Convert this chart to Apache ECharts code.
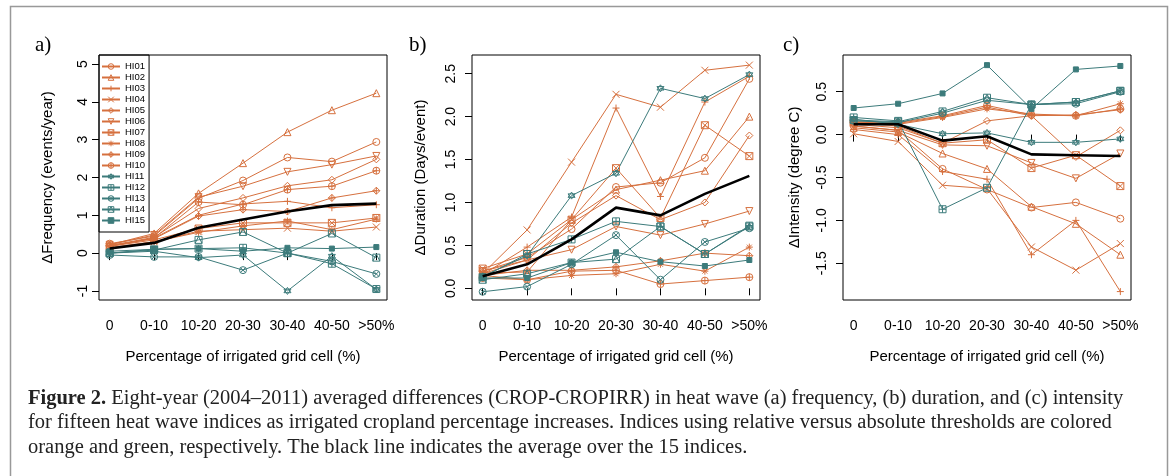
<!DOCTYPE html>
<html>
<head>
<meta charset="utf-8">
<script src="https://cdn.jsdelivr.net/npm/echarts@6/dist/echarts.min.js"></script>
<style>
  html, body { margin: 0; padding: 0; background: #fff; }
  #chart { width: 1173px; height: 476px; }
</style>
</head>
<body>
<div id="chart"></div>
<script>
const categories = ['0', '0-10', '10-20', '20-30', '30-40', '40-50', '>50%'];
const names = ['HI01', 'HI02', 'HI03', 'HI04', 'HI05', 'HI06', 'HI07', 'HI08',
  'HI09', 'HI10', 'HI11', 'HI12', 'HI13', 'HI14', 'HI15'];

// a) frequency (events/year), one row per index
const freqValues = [
  [0.25, 0.45, 1.45, 1.92, 2.53, 2.42, 2.94],
  [0.22, 0.52, 1.58, 2.38, 3.20, 3.78, 4.23],
  [0.18, 0.40, 1.00, 1.30, 1.37, 1.20, 1.28],
  [0.15, 0.30, 0.58, 0.62, 0.66, 0.58, 0.69],
  [0.20, 0.42, 1.18, 1.46, 1.78, 1.94, 2.48],
  [0.22, 0.48, 1.48, 1.77, 2.15, 2.34, 2.57],
  [0.18, 0.35, 0.65, 0.80, 0.80, 0.80, 0.93],
  [0.12, 0.30, 0.55, 0.72, 0.85, 0.62, 0.90],
  [0.20, 0.38, 0.98, 1.15, 1.10, 1.46, 1.65],
  [0.18, 0.40, 1.35, 1.28, 1.68, 1.77, 2.18],
  [0.00, 0.05, -0.12, -0.05, -1.00, -0.08, -0.96],
  [0.00, 0.10, 0.12, 0.14, 0.00, -0.28, -0.95],
  [-0.05, -0.10, -0.10, -0.45, 0.00, -0.22, -0.55],
  [0.00, 0.08, 0.35, 0.56, 0.00, 0.52, -0.12],
  [0.05, 0.10, 0.12, 0.05, 0.14, 0.12, 0.16],
];
const freqMean = [0.12, 0.27, 0.67, 0.89, 1.10, 1.27, 1.31];

// b) duration (days/event)
const durValues = [
  [0.20, 0.36, 0.69, 1.18, 1.23, 1.52, 2.44],
  [0.18, 0.19, 0.80, 1.15, 1.26, 1.37, 2.00],
  [0.16, 0.48, 0.83, 2.10, 1.07, 2.17, 2.47],
  [0.17, 0.68, 1.47, 2.26, 2.11, 2.54, 2.60],
  [0.17, 0.33, 0.76, 1.08, 0.80, 1.00, 1.78],
  [0.20, 0.33, 0.45, 0.72, 0.62, 0.75, 0.90],
  [0.23, 0.40, 0.80, 1.40, 0.82, 1.90, 1.54],
  [0.15, 0.10, 0.15, 0.17, 0.28, 0.20, 0.48],
  [0.15, 0.21, 0.21, 0.25, 0.32, 0.41, 0.38],
  [0.12, 0.10, 0.20, 0.21, 0.05, 0.09, 0.13],
  [0.14, 0.38, 1.08, 1.34, 2.33, 2.21, 2.49],
  [0.13, 0.40, 0.57, 0.78, 0.72, 0.40, 0.73],
  [-0.04, 0.02, 0.28, 0.62, 0.10, 0.54, 0.70],
  [0.10, 0.17, 0.30, 0.34, 0.72, 0.40, 0.72],
  [0.12, 0.12, 0.30, 0.42, 0.31, 0.26, 0.33],
];
const durMean = [0.14, 0.28, 0.57, 0.94, 0.85, 1.10, 1.31];

// c) intensity (degree C)
const intValues = [
  [0.10, 0.05, -0.40, -0.64, -0.85, -0.79, -0.98],
  [0.08, 0.03, -0.22, -0.40, -0.84, -1.04, -1.40],
  [0.06, 0.00, -0.43, -0.52, -1.40, -1.00, -1.83],
  [0.01, -0.08, -0.59, -0.63, -1.31, -1.58, -1.27],
  [0.12, 0.08, -0.10, 0.16, 0.22, -0.26, 0.05],
  [0.10, 0.05, -0.12, -0.13, -0.33, -0.51, -0.22],
  [0.14, 0.10, -0.10, -0.06, -0.39, -0.24, -0.60],
  [0.15, 0.12, 0.20, 0.30, 0.24, 0.22, 0.36],
  [0.14, 0.13, 0.21, 0.32, 0.22, 0.23, 0.29],
  [0.15, 0.14, 0.22, 0.34, 0.23, 0.22, 0.30],
  [0.18, 0.12, 0.01, 0.02, -0.09, -0.09, -0.05],
  [0.20, 0.16, -0.87, -0.62, 0.35, 0.38, 0.51],
  [0.16, 0.14, 0.25, 0.40, 0.35, 0.36, 0.50],
  [0.17, 0.15, 0.27, 0.43, 0.35, 0.38, 0.51],
  [0.31, 0.36, 0.48, 0.81, 0.30, 0.76, 0.80],
];
const intMean = [0.12, 0.12, -0.07, -0.02, -0.23, -0.24, -0.25];

const freqTicks = [-1, 0, 1, 2, 3, 4, 5];
const durTicks = [0, 0.5, 1, 1.5, 2, 2.5];
const intTicks = [-1.5, -1, -0.5, 0, 0.5];

const ORANGE = '#D6703E';
const GREEN = '#3C7B7B';
const SANS = 'Liberation Sans, Arial, sans-serif';
const SERIF = 'Liberation Serif, Times New Roman, serif';

// R-like plotting symbols (pch 1..15)
const circle = 'M0,5A5,5,0,1,0,10,5A5,5,0,1,0,0,5Z';
const symbols = [
  'path://' + circle,
  'path://M5,0L10,9L0,9Z',
  'path://M5,0L5,10M0,5L10,5',
  'path://M0,0L10,10M10,0L0,10',
  'path://M5,0L10,5L5,10L0,5Z',
  'path://M0,0L10,0L5,9Z',
  'path://M0,0L10,0L10,10L0,10ZM0,0L10,10M10,0L0,10',
  'path://M5,0L5,10M0,5L10,5M1.5,1.5L8.5,8.5M8.5,1.5L1.5,8.5',
  'path://M5,0L10,5L5,10L0,5ZM5,0L5,10M0,5L10,5',
  'path://' + circle + 'M5,0L5,10M0,5L10,5',
  'path://M5,0L10,7.5L0,7.5ZM5,10L0,2.5L10,2.5Z',
  'path://M0,0L10,0L10,10L0,10ZM5,0L5,10M0,5L10,5',
  'path://' + circle + 'M1.5,1.5L8.5,8.5M8.5,1.5L1.5,8.5',
  'path://M0,0L10,0L10,10L0,10ZM0,10L5,0L10,10',
  'rect',
];

const colorOf = (i) => (i < 10 ? ORANGE : GREEN);
const markStyle = (i) => ({
  color: i === 14 ? colorOf(i) : 'transparent',
  borderColor: colorOf(i),
  borderWidth: 1,
});

const grids = [
  { left: 99, top: 55, width: 288, height: 245 },
  { left: 472, top: 55, width: 288, height: 245 },
  { left: 843, top: 55, width: 288, height: 245 },
];

function panelSeries(values, mean, gi) {
  const out = values.map((row, i) => ({
    name: names[i],
    type: 'line',
    xAxisIndex: gi,
    yAxisIndex: gi,
    data: row.map((v, j) => [j + 1, v]),
    symbol: symbols[i],
    symbolSize: i === 14 ? 5 : 7,
    lineStyle: { color: colorOf(i), width: 1 },
    itemStyle: markStyle(i),
    emphasis: { disabled: true },
  }));
  out.push({
    name: 'Average',
    type: 'line',
    xAxisIndex: gi,
    yAxisIndex: gi,
    data: mean.map((v, j) => [j + 1, v]),
    symbol: 'none',
    lineStyle: { color: '#000', width: 2.6 },
    z: 5,
  });
  return out;
}

function xAxisOf(gi) {
  return {
    type: 'value',
    gridIndex: gi,
    min: 0.76,
    max: 7.24,
    axisLine: { show: false },
    splitLine: { show: false },
    axisTick: { customValues: [1, 2, 3, 4, 5, 6, 7], length: 7, lineStyle: { color: '#000' } },
    axisLabel: {
      customValues: [1, 2, 3, 4, 5, 6, 7],
      formatter: (v) => categories[Math.round(v) - 1],
      margin: 19, fontSize: 14, color: '#000', fontFamily: SANS,
    },
    name: 'Percentage of irrigated grid cell (%)',
    nameLocation: 'middle',
    nameGap: 49,
    nameTextStyle: { fontSize: 15, color: '#000', fontFamily: SANS },
  };
}

function yAxisOf(gi, min, max, ticks, title, digits, margin, gap) {
  return {
    type: 'value',
    gridIndex: gi,
    min, max,
    axisLine: { show: false },
    splitLine: { show: false },
    axisTick: { customValues: ticks, length: 7, lineStyle: { color: '#000' } },
    axisLabel: {
      customValues: ticks,
      rotate: 90,
      formatter: (v) => v.toFixed(digits),
      margin, fontSize: 14, color: '#000', fontFamily: SANS,
    },
    name: title,
    nameLocation: 'middle',
    nameGap: gap,
    nameTextStyle: { fontSize: 15, color: '#000', fontFamily: SANS },
  };
}

const captionStyle = { fontSize: 20.5, fontFamily: SERIF, fill: '#222' };

const chart = echarts.init(document.getElementById('chart'));
chart.setOption({
  animation: false,
  backgroundColor: '#fff',
  grid: grids.map((g) => Object.assign({ show: true, borderColor: '#000', borderWidth: 1 }, g)),
  xAxis: [xAxisOf(0), xAxisOf(1), xAxisOf(2)],
  yAxis: [
    yAxisOf(0, -1.24, 5.24, freqTicks, '\u0394Frequency (events/year)', 0, 9, 44),
    yAxisOf(1, -0.136, 2.718, durTicks, '\u0394Duration (Days/event)', 1, 14, 44),
    yAxisOf(2, -1.928, 0.928, intTicks, '\u0394Intensity (degree C)', 1, 14, 41),
  ],
  legend: {
    data: names.map((n, i) => ({ name: n, itemStyle: markStyle(i) })),
    orient: 'vertical',
    left: 99,
    top: 55,
    itemWidth: 18,
    itemHeight: 7,
    itemGap: 0,
    padding: [6, 4, 6, 2],
    borderColor: '#000',
    borderWidth: 1,
    selectedMode: false,
    textStyle: { fontSize: 9.5, lineHeight: 11, color: '#000', fontFamily: SANS },
  },
  series: [
    ...panelSeries(freqValues, freqMean, 0),
    ...panelSeries(durValues, durMean, 1),
    ...panelSeries(intValues, intMean, 2),
  ],
  graphic: [
    { type: 'rect', silent: true, shape: { x: 10.5, y: 6.5, width: 1157, height: 480 },
      style: { fill: 'none', stroke: '#999', lineWidth: 1.5 } },
    { type: 'text', left: 35, top: 35, style: { text: 'a)', font: '21px ' + SERIF, fill: '#000' } },
    { type: 'text', left: 409, top: 35, style: { text: 'b)', font: '21px ' + SERIF, fill: '#000' } },
    { type: 'text', left: 783, top: 35, style: { text: 'c)', font: '21px ' + SERIF, fill: '#000' } },
    {
      type: 'text', left: 28, top: 388,
      style: Object.assign({
        text: '{b|Figure 2.} Eight-year (2004\u20132011) averaged differences (CROP-CROPIRR) in heat wave (a) frequency, (b) duration, and (c) intensity',
        rich: { b: { fontWeight: 'bold', fontSize: 20.5, fontFamily: SERIF } },
      }, captionStyle),
    },
    {
      type: 'text', left: 28, top: 412,
      style: Object.assign({
        text: 'for fifteen heat wave indices as irrigated cropland percentage increases. Indices using relative versus absolute thresholds are colored',
      }, captionStyle),
    },
    {
      type: 'text', left: 28, top: 437,
      style: Object.assign({
        text: 'orange and green, respectively. The black line indicates the average over the 15 indices.',
      }, captionStyle),
    },
  ],
});
</script>
</body>
</html>
